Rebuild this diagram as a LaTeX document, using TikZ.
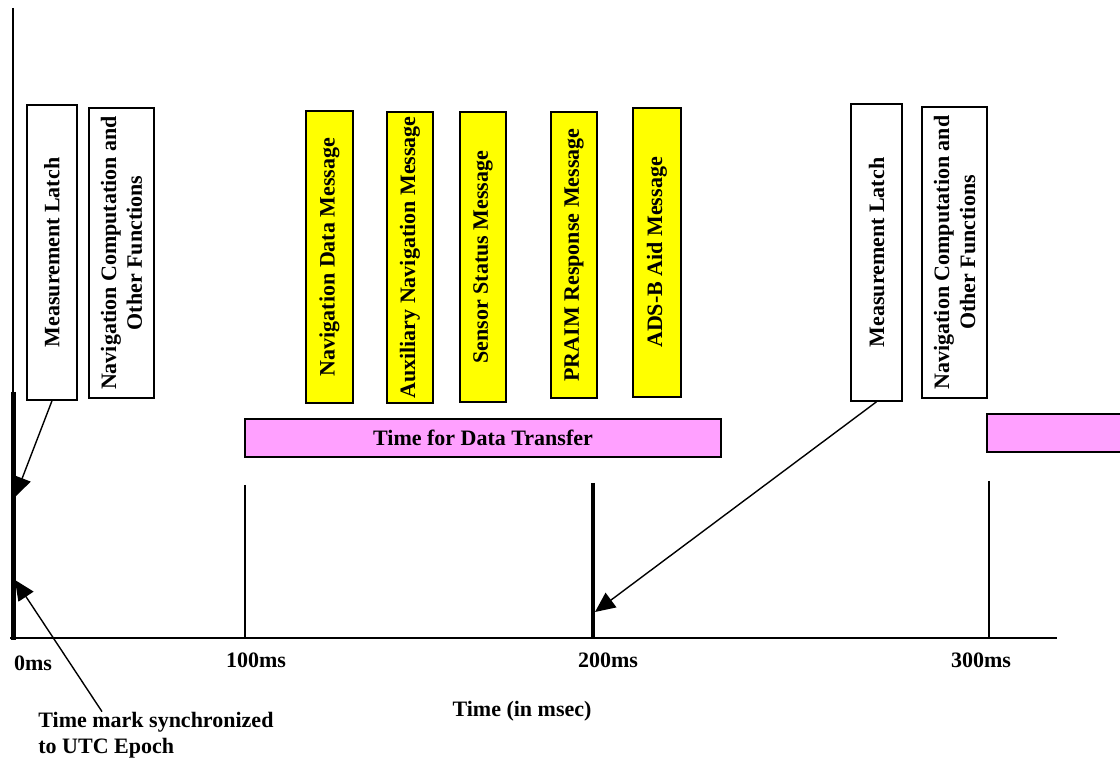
\documentclass[tikz,border=0pt]{standalone}
\usepackage{fontspec}
\setmainfont{Liberation Serif}
\usetikzlibrary{arrows.meta}

\definecolor{msgyellow}{RGB}{255,255,0}
\definecolor{xferpink}{RGB}{255,160,255}

\begin{document}
\begin{tikzpicture}[x=0.5pt,y=-0.5pt,
	every node/.style={font=\bfseries\fontsize{11}{13}\selectfont},
	taskbox/.style={draw, line width=0.8pt, rotate=90, inner sep=0pt, align=center},
	msgbox/.style={taskbox, fill=msgyellow},
	xferbox/.style={draw, line width=0.8pt, fill=xferpink, inner sep=0pt},
	pointer/.style={line width=0.7pt, -{Triangle[length=10pt,width=9pt]}}]
			\clip (0,0) rectangle (1120,764);

			% time line and ticks
			\draw [line width=0.7pt] (13,8) -- (13,640) ;
			\draw [line width=1.2pt] (13,137) -- (13,163) ;
			\draw [line width=2.5pt] (13,392) -- (13,640) ;
			\draw [line width=0.8pt] (10,638) -- (1057,638) ;
			\draw [line width=0.7pt] (245,485) -- (245,638) ;
			\draw [line width=2pt] (593,483) -- (593,638) ;
			\draw [line width=0.7pt] (989,481) -- (989,638) ;

			% first cycle
			\node [taskbox, minimum width=147.5pt, minimum height=25pt] (latchA) at (52,252.5) {Measurement Latch} ;
			\node [taskbox, minimum width=145pt, minimum height=32.5pt] (navA) at (121.5,253) {Navigation Computation and\\Other Functions} ;

			% messages
			\node [msgbox, minimum width=146pt, minimum height=23.5pt] (navdata) at (329.5,257) {Navigation Data Message} ;
			\node [msgbox, minimum width=145.5pt, minimum height=23pt] (auxnav) at (410,257.5) {Auxiliary Navigation Message} ;
			\node [msgbox, minimum width=145pt, minimum height=23pt] (sensor) at (483,257) {Sensor Status Message} ;
			\node [msgbox, minimum width=143pt, minimum height=23pt] (praim) at (574,255) {PRAIM Response Message} ;
			\node [msgbox, minimum width=144.5pt, minimum height=24pt] (adsb) at (657,252.5) {ADS-B Aid Message} ;

			\node [xferbox, minimum width=238pt, minimum height=19pt] (xferA) at (483,438) {Time for Data Transfer} ;

			% second cycle
			\node [taskbox, minimum width=148.5pt, minimum height=25.5pt] (latchB) at (876.5,252.5) {Measurement Latch} ;
			\node [taskbox, minimum width=145.5pt, minimum height=32.5pt] (navB) at (954.5,252.5) {Navigation Computation and\\Other Functions} ;
			\node [xferbox, minimum width=80pt, minimum height=19pt] (xferB) at (1067,433) {} ;

			% axis labels
			\node (t0) at (33,663) {0ms} ;
			\node (t100) at (256,660) {100ms} ;
			\node (t200) at (608,660) {200ms} ;
			\node (t300) at (981,660) {300ms} ;
			\node (axis) at (522,711) {Time (in msec)} ;
			\node [anchor=west, align=left, inner sep=0pt] (utc) at (38,735) {Time mark synchronized\\to UTC Epoch} ;

			% arrows
			\coordinate (markA) at (15,497) ;
			\coordinate (markB) at (15,580) ;
			\coordinate (markC) at (595,612) ;
			\draw [pointer] (latchA.west) -- (markA) ;
			\draw [pointer] ([xshift=32pt]utc.north west) -- (markB) ;
			\draw [pointer] (latchB.west) -- (markC) ;
		\end{tikzpicture}
\end{document}
